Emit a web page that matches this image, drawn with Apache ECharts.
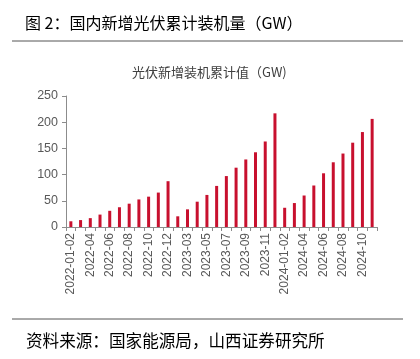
<!DOCTYPE html>
<html>
<head>
<meta charset="utf-8">
<script src="https://cdn.jsdelivr.net/npm/echarts@6/dist/echarts.min.js"></script>
<style>html,body{margin:0;padding:0;background:#fff}#c{width:420px;height:359px}</style>
</head>
<body>
<div id="c"></div>
<script>
const categories = [
  '2022-01-02','2022-03','2022-04','2022-05','2022-06','2022-07','2022-08','2022-09','2022-10','2022-11','2022-12',
  '2023-01-02','2023-03','2023-04','2023-05','2023-06','2023-07','2023-08','2023-09','2023-10','2023-11','2023-12',
  '2024-01-02','2024-03','2024-04','2024-05','2024-06','2024-07','2024-08','2024-09','2024-10','2024-11'
];
const values = [
  10.9, 13.2, 16.9, 23.7, 30.9, 37.7, 44.5, 52.6, 57.9, 65.7, 87.4,
  20.4, 33.7, 48.3, 61.2, 78.4, 97.2, 113.2, 128.9, 142.6, 163.2, 216.9,
  36.7, 45.7, 60.1, 79.2, 102.5, 123.5, 140.2, 160.9, 181.2, 206.3
];
const yTicks = [0, 50, 100, 150, 200, 250];
const figTitle = '图 2：国内新增光伏累计装机量（GW）';
const chartTitle = '光伏新增装机累计值（GW)';
const sourceText = '资料来源：国家能源局，山西证券研究所';

const chart = echarts.init(document.getElementById('c'), null, {renderer: 'canvas'});
chart.setOption({
  animation: false,
  backgroundColor: '#fff',
  title: [
    {text: figTitle, left: 20, top: 10, textStyle: {fontFamily: '"Noto Sans CJK SC", sans-serif', fontSize: 16, fontWeight: 'normal', color: '#000'}},
    {text: chartTitle, left: 127, top: 61, textStyle: {fontFamily: '"Noto Sans CJK SC", sans-serif', fontSize: 13, fontWeight: 'normal', color: '#404040'}},
    {text: sourceText, left: 21, top: 327, textStyle: {fontFamily: '"Noto Sans CJK SC", sans-serif', fontSize: 16.6, fontWeight: 'normal', color: '#000'}}
  ],
  graphic: [
    {type: 'line', shape: {x1: 12, y1: 41, x2: 403, y2: 41}, style: {stroke: '#555', lineWidth: 1}},
    {type: 'line', shape: {x1: 12, y1: 319, x2: 403, y2: 319}, style: {stroke: '#555', lineWidth: 1}}
  ],
  grid: {left: 66, right: 43, top: 96, bottom: 132, containLabel: false},
  xAxis: {
    type: 'category',
    data: categories,
    boundaryGap: true,
    axisLine: {lineStyle: {color: '#8c8c8c', width: 1}},
    axisTick: {show: true, interval: 0, length: 4, lineStyle: {color: '#8c8c8c'}},
    axisLabel: {interval: 1, rotate: 90, margin: 6, fontFamily: '"Liberation Sans", Arial, sans-serif', fontSize: 12, color: '#595959'}
  },
  yAxis: {
    type: 'value',
    min: yTicks[0], max: yTicks[yTicks.length - 1], interval: 50,
    axisLine: {show: true, lineStyle: {color: '#8c8c8c', width: 1}},
    axisTick: {show: true, length: 4, lineStyle: {color: '#8c8c8c'}},
    splitLine: {show: false},
    axisLabel: {margin: 8, fontFamily: '"Liberation Sans", Arial, sans-serif', fontSize: 12.5, color: '#595959'}
  },
  series: [{
    type: 'bar',
    data: values,
    barWidth: 3,
    itemStyle: {color: '#c8102e'}
  }]
});
</script>
</body>
</html>
